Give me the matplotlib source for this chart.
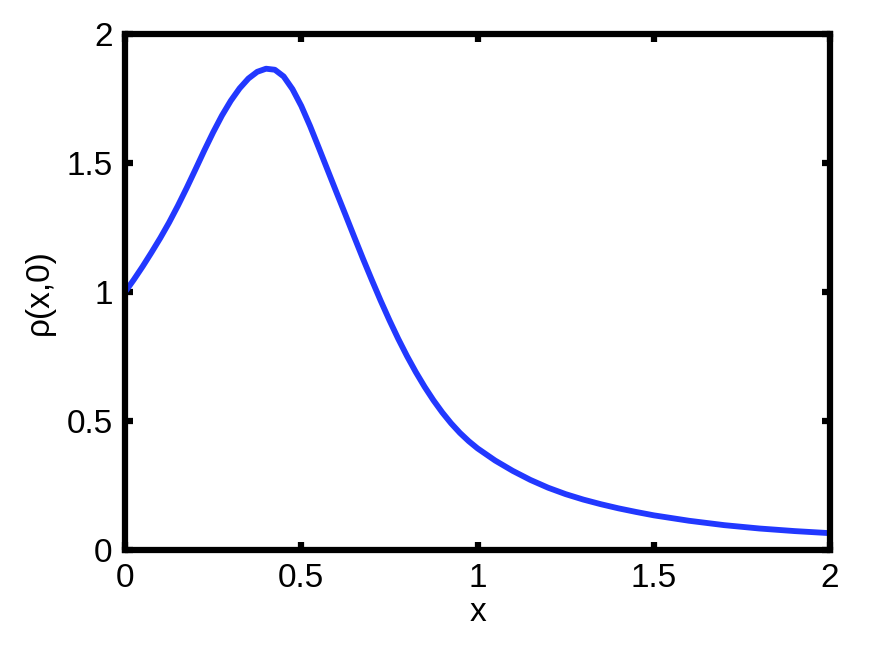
import numpy as np
import matplotlib
matplotlib.use("Agg")
import matplotlib.pyplot as plt

plt.rcParams['font.family'] = ['Liberation Sans', 'DejaVu Sans']

# values
x_vals = [0.0, 0.025, 0.05, 0.075, 0.1, 0.125, 0.15, 0.175, 0.2, 0.225,
          0.25, 0.275, 0.3, 0.325, 0.35, 0.375, 0.4, 0.425, 0.45, 0.475,
          0.5, 0.525, 0.55, 0.575, 0.6, 0.625, 0.65, 0.675, 0.7, 0.725,
          0.75, 0.775, 0.8, 0.825, 0.85, 0.875, 0.9, 0.925, 0.95, 0.975,
          1.0, 1.05, 1.1, 1.15, 1.2, 1.25, 1.3, 1.35, 1.4, 1.45,
          1.5, 1.6, 1.7, 1.8, 1.9, 2.0]
rho_vals = [1.0, 1.048, 1.099, 1.153, 1.209, 1.269, 1.334, 1.403, 1.475, 1.548,
            1.618, 1.683, 1.740, 1.788, 1.826, 1.852, 1.864, 1.86, 1.834, 1.785,
            1.72, 1.642, 1.557, 1.471, 1.385, 1.30, 1.214, 1.129, 1.047, 0.967,
            0.891, 0.819, 0.752, 0.690, 0.633, 0.581, 0.534, 0.492, 0.455, 0.423,
            0.395, 0.348, 0.308, 0.273, 0.243, 0.218, 0.197, 0.179, 0.163, 0.149,
            0.136, 0.115, 0.098, 0.085, 0.075, 0.067]
x_ticks = [0, 0.5, 1, 1.5, 2]
y_ticks = [0, 0.5, 1, 1.5, 2]
x_ticklabels = ["0", "0.5", "1", "1.5", "2"]
y_ticklabels = ["0", "0.5", "1", "1.5", "2"]

fig = plt.figure(figsize=(8.75, 6.58), dpi=100)
ax = fig.add_axes([0.1429, 0.1634, 0.8057, 0.7856])

ax.plot(x_vals, rho_vals, color="#2238ff", lw=4.2,
        solid_capstyle="butt", solid_joinstyle="round")

ax.set_xlim(0, 2)
ax.set_ylim(0, 2)
ax.set_xticks(x_ticks)
ax.set_xticklabels(x_ticklabels)
ax.set_yticks(y_ticks)
ax.set_yticklabels(y_ticklabels)

for s in ax.spines.values():
    s.set_linewidth(4.5)
ax.tick_params(direction="in", length=6, width=4.5, labelsize=24,
               top=True, right=True, pad=9)

ax.set_xlabel("x", fontsize=24, labelpad=2)
ax.set_ylabel("ρ(x,0)", fontsize=24, labelpad=8)

fig.savefig("out.png", dpi=100)
